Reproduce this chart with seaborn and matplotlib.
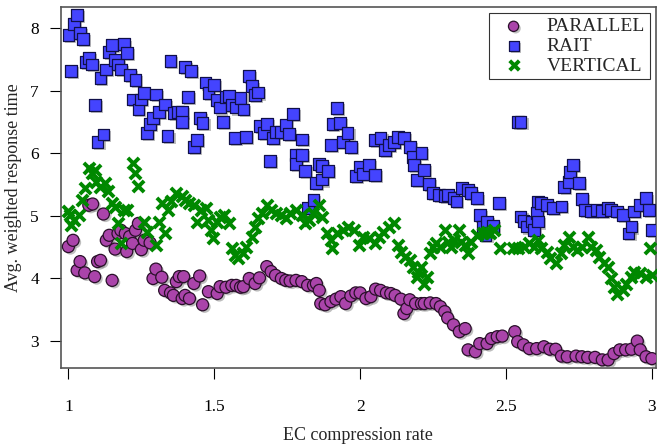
import numpy as np
import pandas as pd
import matplotlib
matplotlib.use('Agg')
import matplotlib.pyplot as plt
import matplotlib.patheffects as pe
import seaborn as sns

# values
parallel_x = [1.0, 1.016, 1.03, 1.04, 1.056, 1.07, 1.083, 1.09, 1.10, 1.11, 1.12, 1.13, 1.14, 1.15,
              1.16, 1.17, 1.18, 1.195, 1.20, 1.21, 1.22, 1.23, 1.24, 1.25, 1.26, 1.28, 1.29, 1.30,
              1.32, 1.33, 1.35, 1.36, 1.37, 1.38, 1.39, 1.395, 1.40, 1.415, 1.43, 1.45, 1.46, 1.48,
              1.51, 1.52, 1.54, 1.56, 1.575, 1.59, 1.60, 1.62, 1.64, 1.655, 1.68, 1.695, 1.71, 1.73,
              1.745, 1.76, 1.78, 1.80, 1.82, 1.84, 1.85, 1.86, 1.865, 1.88, 1.90, 1.917, 1.934, 1.95,
              1.968, 1.985, 2.0, 2.02, 2.037, 2.053, 2.07, 2.09, 2.105, 2.12, 2.14, 2.15, 2.16, 2.17,
              2.19, 2.21, 2.22, 2.24, 2.26, 2.275, 2.29, 2.30, 2.32, 2.34, 2.36, 2.37, 2.395, 2.41,
              2.435, 2.45, 2.47, 2.487, 2.53, 2.54, 2.56, 2.58, 2.605, 2.63, 2.65, 2.67, 2.69, 2.71,
              2.74, 2.76, 2.78, 2.805, 2.83, 2.85, 2.87, 2.89, 2.91, 2.93, 2.95, 2.96, 2.98, 3.0]
parallel_y = [4.51, 4.61, 4.13, 4.27, 4.09, 5.17, 5.19, 4.03, 4.27, 4.29, 5.03, 4.61, 4.69, 3.97,
              4.47, 4.72, 4.77, 4.72, 4.43, 4.67, 4.56, 4.77, 4.88, 4.46, 4.61, 4.57, 4.00, 4.15,
              4.02, 3.81, 3.77, 3.73, 3.95, 4.03, 3.68, 4.03, 3.73, 3.68, 3.92, 4.04, 3.58, 3.79,
              3.76, 3.87, 3.86, 3.89, 3.89, 3.86, 3.87, 4.00, 3.92, 4.01, 4.19, 4.11, 4.05, 4.00,
              3.97, 3.96, 3.97, 3.95, 3.89, 3.89, 3.92, 3.81, 3.60, 3.58, 3.63, 3.67, 3.71, 3.60,
              3.72, 3.77, 3.77, 3.68, 3.71, 3.83, 3.81, 3.77, 3.76, 3.73, 3.67, 3.44, 3.52, 3.66,
              3.60, 3.60, 3.60, 3.61, 3.60, 3.55, 3.47, 3.37, 3.26, 3.15, 3.20, 2.86, 2.83, 2.96,
              2.96, 3.04, 3.07, 3.08, 3.15, 2.99, 2.94, 2.88, 2.88, 2.91, 2.87, 2.87, 2.76, 2.75,
              2.76, 2.75, 2.74, 2.74, 2.70, 2.70, 2.80, 2.86, 2.86, 2.87, 3.00, 2.86, 2.75, 2.72]

rait_x = [1.0, 1.01, 1.02, 1.03, 1.04, 1.05, 1.06, 1.07, 1.08, 1.09, 1.10, 1.11, 1.12, 1.13, 1.14,
          1.15, 1.16, 1.17, 1.18, 1.19, 1.20, 1.21, 1.22, 1.23, 1.24, 1.25, 1.26, 1.27, 1.28, 1.29,
          1.30, 1.31, 1.33, 1.34, 1.35, 1.36, 1.375, 1.39, 1.39, 1.40, 1.41, 1.42, 1.43, 1.44, 1.45,
          1.46, 1.47, 1.48, 1.50, 1.51, 1.52, 1.53, 1.54, 1.55, 1.56, 1.57, 1.575, 1.59, 1.60, 1.61,
          1.62, 1.63, 1.64, 1.65, 1.655, 1.67, 1.68, 1.69, 1.70, 1.71, 1.73, 1.745, 1.757, 1.77,
          1.78, 1.78, 1.80, 1.80, 1.81, 1.82, 1.84, 1.85, 1.86, 1.87, 1.87, 1.89, 1.90, 1.905, 1.92,
          1.93, 1.94, 1.957, 1.97, 1.985, 2.0, 2.01, 2.03, 2.05, 2.05, 2.07, 2.085, 2.10, 2.115,
          2.13, 2.15, 2.17, 2.18, 2.185, 2.195, 2.21, 2.22, 2.235, 2.25, 2.27, 2.29, 2.30, 2.32,
          2.33, 2.35, 2.37, 2.38, 2.40, 2.41, 2.42, 2.43, 2.435, 2.455, 2.475, 2.54, 2.55, 2.55,
          2.56, 2.57, 2.59, 2.595, 2.605, 2.61, 2.61, 2.62, 2.64, 2.66, 2.69, 2.70, 2.715, 2.72,
          2.73, 2.75, 2.76, 2.77, 2.79, 2.81, 2.83, 2.85, 2.86, 2.88, 2.90, 2.92, 2.93, 2.94, 2.96,
          2.98, 2.99, 3.0]
rait_y = [7.89, 7.31, 8.07, 8.21, 7.92, 7.83, 7.46, 7.52, 7.42, 6.77, 6.18, 7.20, 6.30, 7.34, 7.62,
          7.73, 7.49, 7.42, 7.34, 7.74, 7.60, 7.25, 6.86, 7.17, 6.70, 6.86, 6.96, 6.32, 6.47, 6.56,
          6.94, 6.66, 6.78, 6.27, 7.47, 6.64, 6.66, 6.66, 6.50, 7.38, 6.90, 7.31, 6.10, 6.21, 6.56,
          6.49, 7.13, 6.96, 7.09, 6.85, 6.73, 6.50, 6.90, 6.91, 6.77, 6.24, 6.73, 6.88, 6.70, 6.26,
          7.23, 7.07, 6.93, 6.97, 6.43, 6.33, 6.47, 5.88, 6.25, 6.34, 6.34, 6.45, 6.31, 6.63,
          5.97, 5.83, 6.22, 5.97, 5.72, 5.12, 5.26, 5.53, 5.83, 5.80, 5.58, 5.72, 6.13, 6.47, 6.72,
          6.48, 6.18, 6.32, 6.10, 5.64, 5.79, 5.67, 5.81, 5.65, 6.21, 6.24, 6.05, 6.13, 6.18,
          6.26, 6.24, 6.10, 5.94, 5.81, 5.57, 6.00, 5.73, 5.51, 5.37, 5.33, 5.32, 5.33, 5.28,
          5.23, 5.44, 5.41, 5.36, 5.28, 5.01, 4.83, 4.69, 4.91, 4.84, 5.21, 6.50, 6.50, 4.99,
          4.92, 4.83, 4.91, 4.77, 5.04, 5.23, 4.91, 5.20, 5.17, 5.12, 5.15, 5.46, 5.54, 5.70,
          5.81, 5.53, 5.27, 5.09, 5.07, 5.09, 5.08, 5.12, 5.09, 5.07, 5.01, 4.72, 4.83, 5.07, 5.17,
          5.28, 5.10, 4.77]

vertical_x = [1.0, 1.005, 1.01, 1.02, 1.035, 1.045, 1.056, 1.07, 1.08, 1.09, 1.095, 1.11, 1.125,
              1.136, 1.15, 1.16, 1.17, 1.18, 1.19, 1.20, 1.22, 1.23, 1.24, 1.26, 1.27, 1.30, 1.31,
              1.32, 1.33, 1.34, 1.35, 1.37, 1.39, 1.40, 1.415, 1.43, 1.44, 1.455, 1.47, 1.48, 1.49,
              1.495, 1.51, 1.52, 1.535, 1.55, 1.56, 1.57, 1.58, 1.60, 1.61, 1.63, 1.64, 1.65, 1.665,
              1.68, 1.695, 1.71, 1.73, 1.745, 1.76, 1.78, 1.80, 1.81, 1.825, 1.84, 1.86, 1.87, 1.885,
              1.90, 1.905, 1.92, 1.94, 1.96, 1.98, 1.997, 2.01, 2.03, 2.05, 2.065, 2.08, 2.10, 2.115,
              2.13, 2.14, 2.155, 2.17, 2.18, 2.195, 2.20, 2.21, 2.22, 2.23, 2.24, 2.25, 2.26, 2.275,
              2.29, 2.30, 2.31, 2.32, 2.34, 2.345, 2.36, 2.37, 2.38, 2.40, 2.42, 2.435, 2.445, 2.46,
              2.48, 2.525, 2.54, 2.56, 2.58, 2.595, 2.61, 2.62, 2.64, 2.65, 2.67, 2.69, 2.70, 2.715,
              2.73, 2.745, 2.76, 2.78, 2.79, 2.81, 2.82, 2.835, 2.85, 2.86, 2.87, 2.88, 2.90, 2.91,
              2.93, 2.94, 2.96, 2.98, 2.995, 3.0]
vertical_y = [5.08, 5.01, 4.85, 4.93, 5.01, 5.25, 5.44, 5.76, 5.68, 5.73, 5.54, 5.46, 5.52,
              5.39, 5.20, 5.15, 4.88, 4.56, 5.10, 5.10, 5.84, 5.68, 5.48, 4.91, 4.75, 4.53, 4.91,
              5.20, 4.72, 5.09, 5.23, 5.36, 5.31, 5.25, 5.20, 5.17, 4.91, 5.09, 5.12, 4.93, 4.77,
              4.64, 4.91, 4.99, 5.01, 4.88, 4.48, 4.37, 4.32, 4.40, 4.51, 4.67, 4.83, 4.96, 5.04,
              5.17, 5.09, 5.04, 5.01, 4.96, 5.04, 5.09, 5.01, 4.88, 4.93, 5.04, 5.17, 4.99, 4.72,
              4.61, 4.48, 4.72, 4.77, 4.83, 4.77, 4.53, 4.67, 4.64, 4.56, 4.67, 4.75, 4.83, 4.88,
              4.53, 4.43, 4.35, 4.29, 4.19, 4.03, 4.11, 4.19, 3.92, 4.03, 4.40, 4.51, 4.56, 4.51,
              4.77, 4.59, 4.51, 4.61, 4.77, 4.59, 4.53, 4.40, 4.59, 4.69, 4.72, 4.75, 4.72, 4.77,
              4.48, 4.48, 4.48, 4.51, 4.56, 4.51, 4.61, 4.48, 4.43, 4.32, 4.24, 4.40, 4.53, 4.67,
              4.51, 4.45, 4.51, 4.67, 4.51, 4.45, 4.35, 4.24, 4.19, 4.00, 3.87, 3.76, 3.81, 3.92,
              4.03, 4.11, 4.08, 4.03, 4.48, 4.05]

sns.set_style('white')
plt.rcParams['font.family'] = ['Liberation Serif', 'DejaVu Serif']

fig = plt.figure(figsize=(6.57, 4.45), dpi=100)
ax = fig.add_axes([0.093, 0.173, 0.905, 0.811])

shadow = [pe.SimplePatchShadow(offset=(1.5, -1.5), shadow_rgbFace='0.5', alpha=0.5), pe.Normal()]

sns.scatterplot(x=parallel_x, y=parallel_y, ax=ax, marker='o', s=75, color='#AA44AA',
                edgecolor='#2a102a', linewidth=0.9, label='PARALLEL', zorder=3)
sns.scatterplot(x=rait_x, y=rait_y, ax=ax, marker='s', s=72, color='#4444FF',
                edgecolor='#10104a', linewidth=0.9, label='RAIT', zorder=3)
sns.scatterplot(x=vertical_x, y=vertical_y, ax=ax, marker='x', s=65, color='#008800',
                linewidth=2.8, label='VERTICAL', zorder=3)
for coll in ax.collections[:2]:
    coll.set_path_effects(shadow)

ax.set_xlim(0.975, 3.013)
ax.set_ylim(2.57, 8.335)
ax.set_xticks([1, 1.5, 2, 2.5, 3])
ax.set_xticklabels(['1', '1.5', '2', '2.5', '3'])
ax.set_yticks([3, 4, 5, 6, 7, 8])
ax.tick_params(axis='both', direction='out', length=8, width=0.8, labelsize=12.5,
               bottom=True, left=True, colors='black')
ax.tick_params(axis='x', pad=14)
ax.tick_params(axis='y', pad=8)
for sp in ax.spines.values():
    sp.set_color('#555555')
    sp.set_linewidth(1.2)

ax.set_xlabel('EC compression rate', fontsize=13, labelpad=9)
ax.set_ylabel('Avg. weighted response time', fontsize=13, labelpad=6)

leg = ax.legend(loc='upper right', fontsize=14, frameon=True, fancybox=False,
                edgecolor='black', borderaxespad=0.3, handletextpad=0.7,
                labelspacing=0.1, borderpad=0.25, markerscale=0.85)
leg.get_frame().set_linewidth(0.8)

fig.savefig('out.png', dpi=100)
